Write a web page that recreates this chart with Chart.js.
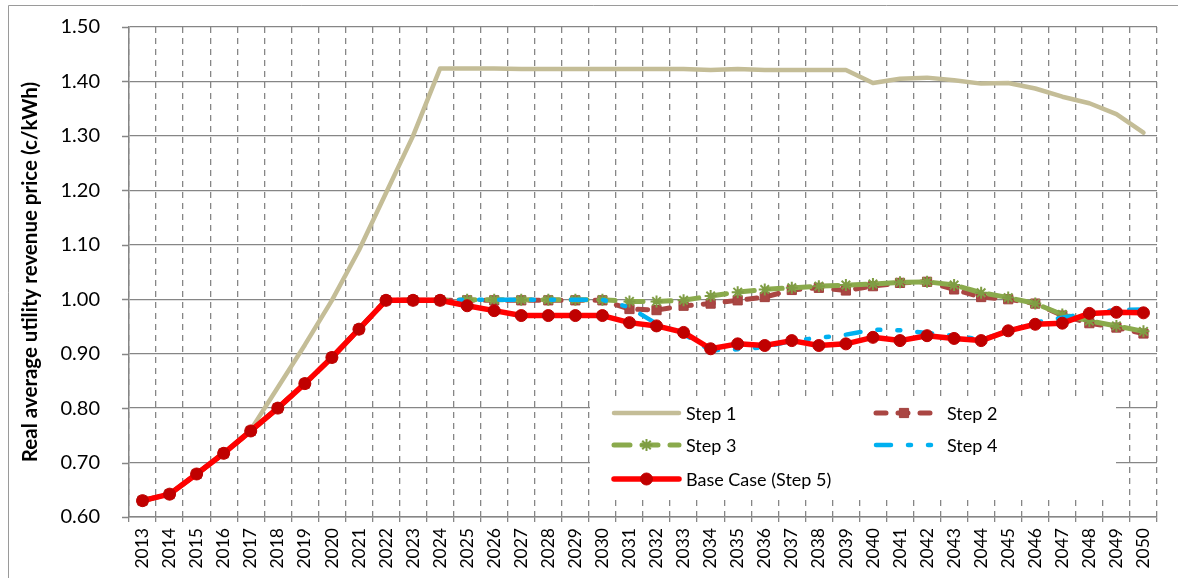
<!DOCTYPE html>
<html>
<head>
<meta charset="utf-8">
<script src="https://cdn.jsdelivr.net/npm/chart.js@4/dist/chart.umd.min.js"></script>
<style>
  html, body { margin: 0; padding: 0; background: #ffffff; }
  #wrap { position: relative; width: 1178px; height: 578px; }
  canvas { display: block; }
</style>
</head>
<body>
<div id="wrap"><canvas id="c" width="1178" height="578"></canvas></div>
<script>
const years = ["2013","2014","2015","2016","2017","2018","2019","2020","2021","2022","2023","2024",
  "2025","2026","2027","2028","2029","2030","2031","2032","2033","2034","2035","2036","2037",
  "2038","2039","2040","2041","2042","2043","2044","2045","2046","2047","2048","2049","2050"];

const yTicks = [0.60, 0.70, 0.80, 0.90, 1.00, 1.10, 1.20, 1.30, 1.40, 1.50];

const step1 = [0.630,0.642,0.679,0.717,0.760,0.838,0.916,0.998,1.090,1.195,1.300,1.424,
  1.424,1.424,1.423,1.423,1.423,1.423,1.423,1.423,1.423,1.421,1.423,1.421,1.421,
  1.421,1.421,1.397,1.405,1.407,1.402,1.396,1.397,1.387,1.372,1.360,1.340,1.306];

const step2 = [0.630,0.642,0.679,0.717,0.758,0.800,0.845,0.893,0.945,0.998,0.998,0.998,
  0.998,0.998,0.998,0.998,0.998,0.998,0.982,0.980,0.988,0.992,0.998,1.004,1.017,
  1.021,1.016,1.024,1.030,1.032,1.018,1.004,1.000,0.992,0.970,0.956,0.948,0.937];

const step3 = [0.630,0.642,0.679,0.717,0.758,0.800,0.845,0.893,0.945,0.998,0.998,0.998,
  0.999,0.999,0.999,0.999,0.999,0.999,0.996,0.996,0.998,1.006,1.013,1.018,1.021,
  1.024,1.026,1.028,1.031,1.032,1.026,1.012,1.003,0.992,0.972,0.960,0.951,0.941];

const step4 = [0.630,0.642,0.679,0.717,0.758,0.800,0.845,0.893,0.945,0.998,0.998,0.998,
  0.999,0.999,0.999,0.999,0.999,0.999,0.985,0.955,0.936,0.906,0.908,0.912,0.924,
  0.929,0.935,0.944,0.943,0.938,0.933,0.926,0.941,0.957,0.966,0.975,0.980,0.981];

const baseCase = [0.630,0.642,0.679,0.717,0.758,0.800,0.845,0.893,0.945,0.998,0.998,0.998,
  0.988,0.979,0.970,0.970,0.970,0.970,0.957,0.951,0.939,0.909,0.918,0.915,0.924,
  0.915,0.918,0.930,0.924,0.933,0.928,0.924,0.942,0.954,0.956,0.974,0.976,0.975];

const seriesNames = ["Step 1", "Step 2", "Step 3", "Step 4", "Base Case (Step 5)"];

const FONT = "Lato, 'Open Sans', sans-serif";
const GRID = "#868686";

const datasets = [
  { label: seriesNames[0], data: step1, borderColor: "#C4BD97", borderWidth: 4.5,
    pointRadius: 0, pointHoverRadius: 0, order: 4, borderCapStyle: "round", borderJoinStyle: "round" },
  { label: seriesNames[1], data: step2, borderColor: "#AA4643", borderWidth: 5,
    borderDash: [10, 12], borderCapStyle: "round",
    pointStyle: "rect", pointRadius: 6.5, pointBackgroundColor: "#AA4643", pointBorderColor: "#A0413E",
    pointBorderWidth: 1, order: 3 },
  { label: seriesNames[2], data: step3, borderColor: "#8AAA4C", borderWidth: 5,
    borderDash: [16, 12], borderCapStyle: "round",
    pointStyle: "star", pointRadius: 6, pointBorderColor: "#7F9D44", pointBackgroundColor: "#7F9D44",
    pointBorderWidth: 2, order: 2 },
  { label: seriesNames[3], data: step4, borderColor: "#00B0F0", borderWidth: 4.5,
    borderDash: [15, 17, 3, 17, 3, 17], borderCapStyle: "round",
    pointRadius: 0, pointHoverRadius: 0, order: 1 },
  { label: seriesNames[4], data: baseCase, borderColor: "#FF0000", borderWidth: 5.5,
    borderJoinStyle: "round",
    pointStyle: "circle", pointRadius: 6, pointBackgroundColor: "#C00000", pointBorderColor: "#C00000",
    pointBorderWidth: 1, order: 0 }
];

function drawSample(ctx, ds, x0, x1, y) {
  ctx.save();
  ctx.strokeStyle = ds.borderColor;
  ctx.lineWidth = ds.borderWidth;
  ctx.lineCap = "round";
  ctx.setLineDash(ds.borderDash || []);
  ctx.beginPath();
  ctx.moveTo(x0, y);
  ctx.lineTo(x1, y);
  ctx.stroke();
  ctx.restore();
  if (ds.pointRadius > 0) {
    ctx.save();
    ctx.fillStyle = ds.pointBackgroundColor;
    ctx.strokeStyle = ds.pointBorderColor;
    ctx.lineWidth = ds.pointBorderWidth;
    ctx.setLineDash([]);
    Chart.helpers.drawPoint(ctx, {
      pointStyle: ds.pointStyle, radius: ds.pointRadius, rotation: 0,
      borderWidth: ds.pointBorderWidth
    }, (x0 + x1) / 2, y);
    ctx.restore();
  }
}

const legendPlugin = {
  id: "boxLegend",
  afterDatasetsDraw(chart) {
    const ctx = chart.ctx;
    ctx.save();
    ctx.fillStyle = "#ffffff";
    ctx.fillRect(590, 396, 526, 103);
    const rows = [413, 445, 479];
    const items = [
      { i: 0, x0: 614, x1: 679, tx: 686, y: rows[0] },
      { i: 1, x0: 876, x1: 932, tx: 947, y: rows[0] },
      { i: 2, x0: 614, x1: 679, tx: 686, y: rows[1] },
      { i: 3, x0: 876, x1: 932, tx: 947, y: rows[1] },
      { i: 4, x0: 614, x1: 679, tx: 686, y: rows[2] }
    ];
    items.forEach(it => {
      const ds = chart.data.datasets[it.i];
      drawSample(ctx, ds, it.x0, it.x1, it.y);
      ctx.fillStyle = "#000000";
      ctx.font = "18px " + FONT;
      ctx.textAlign = "left";
      ctx.textBaseline = "middle";
      ctx.fillText(ds.label, it.tx, it.y + 1);
    });
    ctx.restore();
  }
};

const framePlugin = {
  id: "frame",
  beforeDraw(chart) {
    const ctx = chart.ctx;
    ctx.save();
    ctx.fillStyle = "#ffffff";
    ctx.fillRect(0, 0, chart.width, chart.height);
    ctx.strokeStyle = "#9a9a9a";
    ctx.lineWidth = 1;
    ctx.beginPath();
    ctx.moveTo(8.5, 590);
    ctx.lineTo(8.5, 5.5);
    ctx.lineTo(1190, 5.5);
    ctx.stroke();
    ctx.restore();
  },
  afterDraw(chart) {
    // short tick marks on the value axis
    const ctx = chart.ctx;
    const ys = chart.scales.y;
    ctx.save();
    ctx.strokeStyle = GRID;
    ctx.lineWidth = 1.3;
    ctx.beginPath();
    yTicks.forEach(v => {
      const py = Math.round(ys.getPixelForValue(v)) + 0.5;
      ctx.moveTo(ys.right - 7, py);
      ctx.lineTo(ys.right, py);
    });
    ctx.stroke();
    ctx.restore();
  }
};

new Chart(document.getElementById("c"), {
  type: "line",
  data: { labels: years, datasets: datasets },
  plugins: [framePlugin, legendPlugin],
  options: {
    responsive: false,
    animation: false,
    devicePixelRatio: 1,
    events: [],
    layout: { padding: { top: 27, right: 21, left: 0, bottom: 0 } },
    plugins: { legend: { display: false }, tooltip: { enabled: false } },
    elements: { line: { tension: 0 } },
    scales: {
      x: {
        offset: true,
        afterFit(scale) { scale.height = 61; },
        grid: {
          offset: true, color: GRID, lineWidth: 1.3,
          tickLength: 5, tickBorderDash: [], tickColor: GRID, tickWidth: 1.3, drawTicks: true
        },
        border: { display: true, color: GRID, width: 1.5, dash: [6, 5] },
        ticks: {
          autoSkip: false, minRotation: 90, maxRotation: 90, padding: 6,
          color: "#000000", font: { family: FONT, size: 17.5 }
        }
      },
      y: {
        min: 0.6, max: 1.5,
        afterFit(scale) { scale.width = 129; },
        afterBuildTicks(scale) { scale.ticks = yTicks.map(v => ({ value: v })); },
        grid: { color: GRID, lineWidth: 1.3, tickLength: 29, tickColor: "rgba(0,0,0,0)" },
        border: { display: true, color: GRID, width: 1.5 },
        ticks: {
          padding: 0, color: "#000000", font: { family: FONT, size: 20 },
          callback: v => Number(v).toFixed(2)
        },
        title: {
          display: true, text: "Real average utility revenue price (c/kWh)",
          color: "#000000", font: { family: FONT, size: 20.5, weight: "bold" },
          padding: { top: 18, bottom: 0 }
        }
      }
    }
  }
});
</script>
</body>
</html>
